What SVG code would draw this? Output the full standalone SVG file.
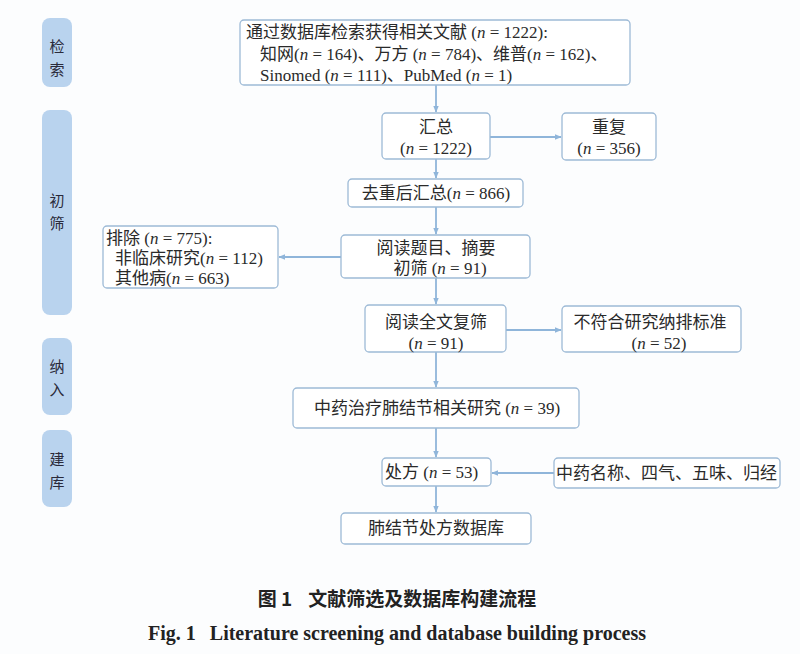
<svg xmlns="http://www.w3.org/2000/svg" width="800" height="654" viewBox="0 0 800 654">
<defs>
<marker id="ah" viewBox="0 0 10 10" refX="9" refY="5" markerWidth="7" markerHeight="7" orient="auto" markerUnits="userSpaceOnUse">
<path d="M0,1 L10,5 L0,9 Z" fill="#8fb5da"/>
</marker>
<style>
.box{fill:#fff;stroke:#9dbad6;stroke-width:1.3}
.lab{fill:#b9d3ee;stroke:none}
.t{font-family:"Liberation Serif","Noto Sans CJK SC",serif;font-size:17px;fill:#2a2a2a;dominant-baseline:central}
.c{text-anchor:middle}
.lt{font-family:"Noto Sans CJK SC",sans-serif;font-size:15px;fill:#2a2a3a;text-anchor:middle;dominant-baseline:central}
.e{stroke:#8fb5da;stroke-width:1.8;fill:none;marker-end:url(#ah)}
.cap1{font-family:"Noto Sans CJK SC",sans-serif;font-weight:bold;font-size:19px;fill:#222;text-anchor:middle}
.cap2{font-family:"Liberation Serif",serif;font-weight:bold;font-size:20px;fill:#222;text-anchor:middle}
</style>
</defs>
<rect width="800" height="654" fill="#fcfdfe"/>

<g id="stages">
<rect class="lab" x="42" y="18" width="30" height="69" rx="8"/>
<text class="lt" x="57" y="45">检</text><text class="lt" x="57" y="68">索</text>
<rect class="lab" x="42" y="110" width="30" height="205" rx="8"/>
<text class="lt" x="57" y="199">初</text><text class="lt" x="57" y="222">筛</text>
<rect class="lab" x="42" y="338" width="30" height="77" rx="8"/>
<text class="lt" x="57" y="365">纳</text><text class="lt" x="57" y="388">入</text>
<rect class="lab" x="42" y="430" width="30" height="77" rx="8"/>
<text class="lt" x="57" y="458">建</text><text class="lt" x="57" y="481">库</text>
</g>

<g id="connectors">
<line class="e" x1="436" y1="85" x2="436" y2="112"/>
<line class="e" x1="490" y1="137" x2="561" y2="137"/>
<line class="e" x1="436" y1="159" x2="436" y2="178"/>
<line class="e" x1="436" y1="207" x2="436" y2="234"/>
<line class="e" x1="341" y1="257" x2="279" y2="257"/>
<line class="e" x1="436" y1="278" x2="436" y2="304"/>
<line class="e" x1="506" y1="330" x2="561" y2="330"/>
<line class="e" x1="436" y1="352" x2="436" y2="387"/>
<line class="e" x1="436" y1="428" x2="436" y2="457"/>
<line class="e" x1="554" y1="473" x2="492" y2="473"/>
<line class="e" x1="436" y1="486" x2="436" y2="512"/>
</g>

<g id="n-search">
<rect class="box" x="240" y="20" width="390" height="65" rx="4"/>
<text class="t" x="246" y="32">通过数据库检索获得相关文献 (<tspan font-style="italic">n</tspan> = 1222):</text>
<text class="t" x="260" y="54">知网(<tspan font-style="italic">n</tspan> = 164)、万方 (<tspan font-style="italic">n</tspan> = 784)、维普(<tspan font-style="italic">n</tspan> = 162)、</text>
<text class="t" x="260" y="75">Sinomed (<tspan font-style="italic">n</tspan> = 111)、PubMed (<tspan font-style="italic">n</tspan> = 1)</text>
</g>

<g id="n-sum">
<rect class="box" x="382" y="113" width="108" height="46" rx="4"/>
<text class="t c" x="436" y="127">汇总</text>
<text class="t c" x="436" y="148">(<tspan font-style="italic">n</tspan> = 1222)</text>
</g>

<g id="n-dup">
<rect class="box" x="562" y="113" width="94" height="47" rx="4"/>
<text class="t c" x="609" y="127">重复</text>
<text class="t c" x="609" y="148">(<tspan font-style="italic">n</tspan> = 356)</text>
</g>

<g id="n-dedup">
<rect class="box" x="348" y="179" width="175" height="28" rx="4"/>
<text class="t c" x="436" y="193">去重后汇总(<tspan font-style="italic">n</tspan> = 866)</text>
</g>

<g id="n-title">
<rect class="box" x="341" y="235" width="189" height="43" rx="4"/>
<text class="t c" x="436" y="248">阅读题目、摘要</text>
<text class="t c" x="440" y="268">初筛 (<tspan font-style="italic">n</tspan> = 91)</text>
</g>

<g id="n-exclude">
<rect class="box" x="103" y="226" width="175" height="62" rx="4"/>
<text class="t" x="106" y="238">排除 (<tspan font-style="italic">n</tspan> = 775):</text>
<text class="t" x="115" y="258">非临床研究(<tspan font-style="italic">n</tspan> = 112)</text>
<text class="t" x="115" y="278">其他病(<tspan font-style="italic">n</tspan> = 663)</text>
</g>

<g id="n-full">
<rect class="box" x="365" y="305" width="141" height="47" rx="4"/>
<text class="t c" x="436" y="322">阅读全文复筛</text>
<text class="t c" x="436" y="343">(<tspan font-style="italic">n</tspan> = 91)</text>
</g>

<g id="n-notmeet">
<rect class="box" x="562" y="306" width="179" height="46" rx="4"/>
<text class="t c" x="650" y="322">不符合研究纳排标准</text>
<text class="t c" x="659" y="343">(<tspan font-style="italic">n</tspan> = 52)</text>
</g>

<g id="n-included">
<rect class="box" x="293" y="388" width="286" height="40" rx="4"/>
<text class="t c" x="437" y="408">中药治疗肺结节相关研究 (<tspan font-style="italic">n</tspan> = 39)</text>
</g>

<g id="n-rx">
<rect class="box" x="382" y="458" width="109" height="28" rx="4"/>
<text class="t" x="385" y="472">处方 (<tspan font-style="italic">n</tspan> = 53)</text>
</g>

<g id="n-herb">
<rect class="box" x="554" y="458" width="226" height="30" rx="4"/>
<text class="t" x="556" y="473">中药名称、四气、五味、归经</text>
</g>

<g id="n-db">
<rect class="box" x="341" y="513" width="190" height="31" rx="4"/>
<text class="t c" x="436" y="528">肺结节处方数据库</text>
</g>

<g id="caption">
<text class="cap1" x="397" y="606">图 1<tspan dx="16">文献筛选及数据库构建流程</tspan></text>
<text class="cap2" x="397" y="640">Fig. 1<tspan dx="14">Literature screening and database building process</tspan></text>
</g>
</svg>
